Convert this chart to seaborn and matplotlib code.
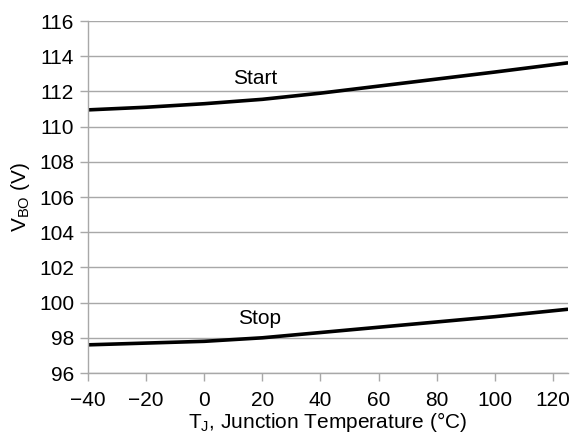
import numpy as np
import pandas as pd
import matplotlib
matplotlib.use("Agg")
import matplotlib.pyplot as plt
import seaborn as sns

temps = [-40, -20, 0, 20, 40, 60, 80, 100, 125]
start_v = [110.95, 111.1, 111.3, 111.55, 111.9, 112.3, 112.7, 113.1, 113.62]
stop_v = [97.6, 97.7, 97.8, 98.0, 98.3, 98.6, 98.9, 99.2, 99.62]
x_ticks = [-40, -20, 0, 20, 40, 60, 80, 100, 120]
y_ticks = [96, 98, 100, 102, 104, 106, 108, 110, 112, 114, 116]

df = pd.DataFrame({
    "T": temps * 2,
    "V": start_v + stop_v,
    "series": ["Start"] * len(temps) + ["Stop"] * len(temps),
})

sns.set_theme(style="white")
plt.rcParams["font.family"] = ["Liberation Sans", "DejaVu Sans"]
plt.rcParams["mathtext.fontset"] = "custom"
plt.rcParams["mathtext.rm"] = "Liberation Sans"
plt.rcParams["mathtext.it"] = "Liberation Sans"

FS = 15

fig = plt.figure(figsize=(5.74, 4.36), dpi=100)
ax = fig.add_axes([88 / 574, 1 - 373 / 436, (567.5 - 88) / 574, (373 - 21) / 436])

sns.lineplot(data=df, x="T", y="V", hue="series", palette=["black", "black"],
             linewidth=2.6, legend=False, ax=ax)

ax.set_xlim(-40, 125)
ax.set_ylim(96, 116)
ax.set_xticks(x_ticks)
ax.set_xticklabels([f"\u2212{abs(t)}" if t < 0 else str(t) for t in x_ticks])
ax.set_yticks(y_ticks)
ax.yaxis.grid(True, color="#a8a8a8", linewidth=1.0)
ax.xaxis.grid(False)
ax.set_axisbelow(True)
for s in ["top", "right"]:
    ax.spines[s].set_visible(False)
for s in ["left", "bottom"]:
    ax.spines[s].set_color("#a8a8a8")
    ax.spines[s].set_linewidth(1.0)
ax.tick_params(axis="both", which="major", length=6, width=1.0, color="#a8a8a8",
               labelsize=FS, labelcolor="black", direction="out")
ax.tick_params(axis="x", bottom=True, pad=7)
ax.tick_params(axis="y", left=True, pad=4)

ax.set_xlabel(r"T$_{\mathrm{J}}$, Junction Temperature (°C)", fontsize=FS, color="black", labelpad=0)
ax.set_ylabel(r"V$_{\mathrm{BO}}$ (V)", fontsize=FS, color="black", labelpad=5)

ax.text(17.5, 112.75, "Start", fontsize=FS, ha="center", va="center", color="black")
ax.text(19, 99.1, "Stop", fontsize=FS, ha="center", va="center", color="black")

fig.savefig("out.png", dpi=100)
